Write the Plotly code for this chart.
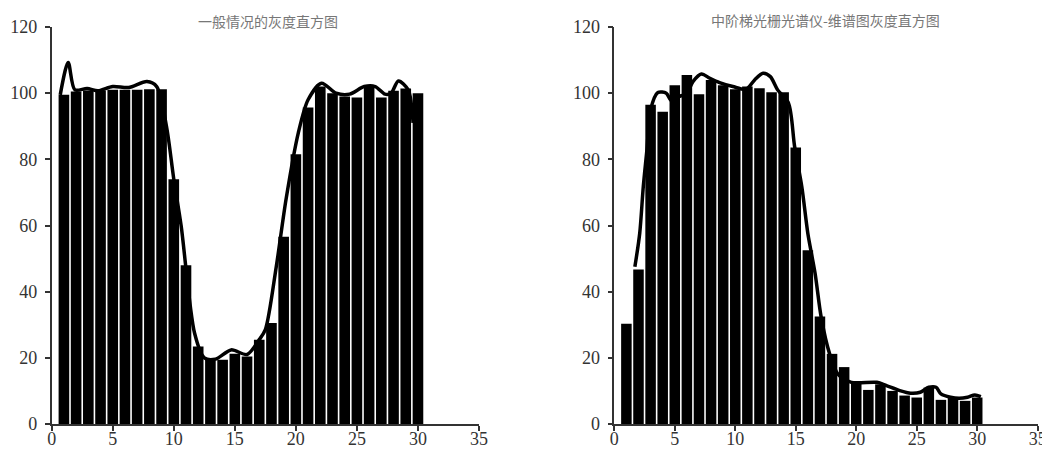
import plotly.graph_objects as go

# ---- data ----
bins = list(range(1, 31))

left_bars = [99.5, 100.5, 100.8, 100.8, 101, 101, 101, 101.2, 101.2, 74,
             48, 23.4, 19.4, 19.4, 21.2, 20.4, 25.5, 30.5, 56.6, 81.5,
             95.7, 102, 100, 99, 98.7, 102, 98.7, 100.7, 101.4, 100]

left_line_x = [0.7, 1.35, 1.9, 2.9, 3.8, 5.0, 6.3, 7.8, 8.6, 9.4, 10.0, 10.6,
               11.7, 12.5, 13.4, 14.7, 16.0, 17.0, 17.5, 18.4, 19.2, 20.2,
               21.0, 22.1, 23.3, 24.4, 25.6, 26.5, 27.3, 27.8, 28.4, 29.2, 29.6]
left_line_y = [99.5, 109.3, 101, 101.4, 100.7, 102, 101.7, 103.5, 102, 90, 74, 60,
               27.5, 20, 19.6, 22.4, 21, 25.5, 28.5, 47.7, 68, 88,
               98, 103, 100, 99.7, 102, 102, 99.7, 100, 103.7, 101, 91]

right_bars = [30.3, 46.7, 96.5, 94.4, 102.4, 105.5, 99.7, 104, 102.4, 101.2,
              102, 101.5, 100.3, 100.3, 83.6, 52.5, 32.5, 21.2, 17.2, 12.3,
              10.3, 12, 10, 8.6, 8, 11, 7.3, 8, 7, 8]

right_line_x = [1.7, 2.1, 2.4, 2.7, 3.0, 3.6, 4.3, 4.7, 5.2, 6.0, 6.5, 7.2, 7.9,
                8.7, 9.8, 10.9, 11.6, 12.3, 12.9, 13.5, 14.4, 14.9, 15.5, 16.0,
                16.6, 17.1, 17.8, 18.5, 19.6, 21.7, 22.5, 23.6, 24.5, 25.3, 26.0,
                26.6, 27.0, 27.8, 28.5, 29.2, 29.8, 30.3]
right_line_y = [47.5, 57.6, 71.9, 83, 95, 100.2, 100, 97.8, 98.8, 100, 103.5, 105.8,
                104.5, 103.2, 102, 101.2, 104, 106, 105, 101, 97, 84, 71.7, 57.6,
                45.5, 32.3, 21.2, 15, 12.6, 12.6, 11.6, 10.1, 9.3, 9.6, 11.1,
                11.1, 9.1, 8.1, 7.8, 8.1, 8.8, 8.3]

titles = ["一般情况的灰度直方图", "中阶梯光栅光谱仪-维谱图灰度直方图"]
x_ticks = [0, 5, 10, 15, 20, 25, 30, 35]
y_ticks = [0, 20, 40, 60, 80, 100, 120]

fig = go.Figure()
fig.add_trace(go.Bar(x=bins, y=left_bars, marker=dict(color="black", line=dict(width=0)),
                     xaxis="x", yaxis="y", showlegend=False))
fig.add_trace(go.Scatter(x=left_line_x, y=left_line_y, mode="lines",
                         line=dict(color="black", width=3.5, shape="spline", smoothing=0.8),
                         xaxis="x", yaxis="y", showlegend=False))
fig.add_trace(go.Bar(x=bins, y=right_bars, marker=dict(color="black", line=dict(width=0)),
                     xaxis="x2", yaxis="y2", showlegend=False))
fig.add_trace(go.Scatter(x=right_line_x, y=right_line_y, mode="lines",
                         line=dict(color="black", width=3.5, shape="spline", smoothing=0.8),
                         xaxis="x2", yaxis="y2", showlegend=False))

# page body has an 8px default margin: figure pixels = screen pixels - 8
OFF = 8
W, H = 1050 - OFF, 452 - OFF


def px_x(v):
    return (v - OFF) / W


def px_y(v):
    return 1 - (v - OFF) / H


tickfont = dict(family="Liberation Serif, Times New Roman, serif", size=18, color="#333333")
axcommon = dict(showgrid=False, zeroline=False, showline=True, linecolor="#333333",
                linewidth=1.5, ticks="outside", ticklen=5, tickwidth=1.5,
                tickcolor="#333333", tickfont=tickfont, automargin=False)

y_dom = [px_y(424), px_y(27)]

fig.update_layout(
    width=W, height=H,
    margin=dict(l=0, r=0, t=0, b=0),
    paper_bgcolor="white", plot_bgcolor="white",
    bargap=0.13,
    xaxis=dict(domain=[px_x(51.7), px_x(479)], range=[0, 35], tickvals=x_ticks,
               anchor="y", ticklabelstandoff=-7, **axcommon),
    yaxis=dict(domain=y_dom, range=[0, 120], tickvals=y_ticks, anchor="x",
               ticklabelstandoff=4, **axcommon),
    xaxis2=dict(domain=[px_x(614.3), px_x(1037.7)], range=[0, 35], tickvals=x_ticks,
                anchor="y2", ticklabelstandoff=-7, **axcommon),
    yaxis2=dict(domain=y_dom, range=[0, 120], tickvals=y_ticks, anchor="x2",
                ticklabelstandoff=4, **axcommon),
    annotations=[
        dict(text=titles[0], x=px_x(268), y=px_y(21), xref="paper", yref="paper",
             showarrow=False, xanchor="center", yanchor="middle",
             font=dict(family="Noto Sans CJK SC", size=14, color="#777777")),
        dict(text=titles[1], x=px_x(825), y=px_y(20), xref="paper", yref="paper",
             showarrow=False, xanchor="center", yanchor="middle",
             font=dict(family="Noto Sans CJK SC", size=14, color="#777777")),
    ],
)

fig.write_html("out.html")
